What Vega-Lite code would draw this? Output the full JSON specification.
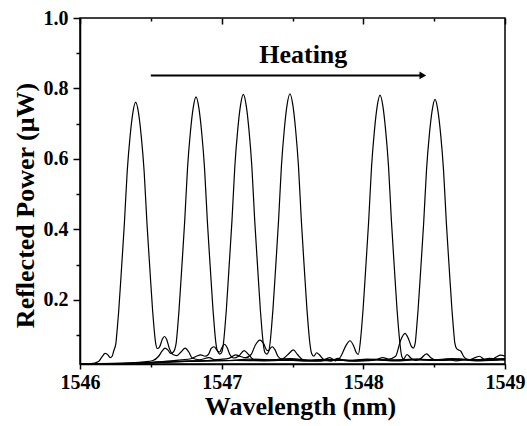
{
"$schema": "https://vega.github.io/schema/vega-lite/v6.json",
"width": 425, "height": 346,
"autosize": "none",
"padding": {"left": 80, "top": 18, "right": 22, "bottom": 62},
"background": "white",
"config": {"view": {"stroke": "black", "strokeWidth": 1.5}, "font": "Liberation Serif",
"axis": {"grid": false, "domainColor": "black", "domainWidth": 1.5, "tickColor": "black", "tickWidth": 1.5, "labelColor": "black", "titleColor": "black"}},
"datasets": {
"s": [
{"c":1,"x":1546.000,"y":0.019},{"c":1,"x":1546.080,"y":0.019},{"c":1,"x":1546.130,"y":0.025},{"c":1,"x":1546.155,"y":0.038},{"c":1,"x":1546.177,"y":0.048},{"c":1,"x":1546.197,"y":0.044},{"c":1,"x":1546.213,"y":0.036},{"c":1,"x":1546.227,"y":0.040},{"c":1,"x":1546.238,"y":0.055},
{"c":1,"x":1546.253,"y":0.076},{"c":1,"x":1546.263,"y":0.118},{"c":1,"x":1546.273,"y":0.167},{"c":1,"x":1546.293,"y":0.289},{"c":1,"x":1546.313,"y":0.415},{"c":1,"x":1546.333,"y":0.563},{"c":1,"x":1546.353,"y":0.662},{"c":1,"x":1546.373,"y":0.731},{"c":1,"x":1546.393,"y":0.761},{"c":1,"x":1546.413,"y":0.731},{"c":1,"x":1546.433,"y":0.662},{"c":1,"x":1546.453,"y":0.563},{"c":1,"x":1546.473,"y":0.415},{"c":1,"x":1546.493,"y":0.289},{"c":1,"x":1546.513,"y":0.167},{"c":1,"x":1546.523,"y":0.118},{"c":1,"x":1546.533,"y":0.080},
{"c":1,"x":1546.546,"y":0.062},{"c":1,"x":1546.561,"y":0.066},{"c":1,"x":1546.581,"y":0.088},{"c":1,"x":1546.596,"y":0.096},{"c":1,"x":1546.611,"y":0.088},{"c":1,"x":1546.631,"y":0.062},{"c":1,"x":1546.655,"y":0.045},{"c":1,"x":1546.684,"y":0.042},{"c":1,"x":1546.713,"y":0.052},{"c":1,"x":1546.743,"y":0.063},{"c":1,"x":1546.768,"y":0.052},{"c":1,"x":1546.792,"y":0.035},{"c":1,"x":1546.842,"y":0.030},{"c":1,"x":1546.911,"y":0.036},{"c":1,"x":1546.951,"y":0.030},{"c":1,"x":1547.040,"y":0.028},{"c":1,"x":1547.189,"y":0.032},{"c":1,"x":1547.337,"y":0.030},{"c":1,"x":1547.486,"y":0.033},{"c":1,"x":1547.634,"y":0.028},{"c":1,"x":1547.783,"y":0.030},{"c":1,"x":1547.931,"y":0.027},{"c":1,"x":1548.080,"y":0.030},{"c":1,"x":1548.229,"y":0.028},{"c":1,"x":1548.377,"y":0.031},{"c":1,"x":1548.526,"y":0.028},{"c":1,"x":1548.674,"y":0.032},{"c":1,"x":1548.823,"y":0.029},{"c":1,"x":1549.000,"y":0.031},

{"c":2,"x":1546.000,"y":0.019},{"c":2,"x":1546.200,"y":0.019},{"c":2,"x":1546.350,"y":0.021},{"c":2,"x":1546.450,"y":0.024},{"c":2,"x":1546.515,"y":0.028},{"c":2,"x":1546.555,"y":0.040},{"c":2,"x":1546.580,"y":0.055},{"c":2,"x":1546.600,"y":0.063},{"c":2,"x":1546.620,"y":0.058},{"c":2,"x":1546.640,"y":0.048},{"c":2,"x":1546.659,"y":0.052},{"c":2,"x":1546.669,"y":0.060},
{"c":2,"x":1546.679,"y":0.078},{"c":2,"x":1546.689,"y":0.120},{"c":2,"x":1546.699,"y":0.171},{"c":2,"x":1546.719,"y":0.295},{"c":2,"x":1546.739,"y":0.423},{"c":2,"x":1546.759,"y":0.574},{"c":2,"x":1546.779,"y":0.675},{"c":2,"x":1546.799,"y":0.745},{"c":2,"x":1546.819,"y":0.776},{"c":2,"x":1546.839,"y":0.745},{"c":2,"x":1546.859,"y":0.675},{"c":2,"x":1546.879,"y":0.574},{"c":2,"x":1546.899,"y":0.423},{"c":2,"x":1546.919,"y":0.295},{"c":2,"x":1546.939,"y":0.171},{"c":2,"x":1546.949,"y":0.120},{"c":2,"x":1546.959,"y":0.078},
{"c":2,"x":1546.971,"y":0.055},{"c":2,"x":1546.986,"y":0.052},{"c":2,"x":1547.002,"y":0.065},{"c":2,"x":1547.020,"y":0.074},{"c":2,"x":1547.038,"y":0.065},{"c":2,"x":1547.058,"y":0.045},{"c":2,"x":1547.085,"y":0.035},{"c":2,"x":1547.119,"y":0.040},{"c":2,"x":1547.159,"y":0.056},{"c":2,"x":1547.189,"y":0.045},{"c":2,"x":1547.228,"y":0.030},{"c":2,"x":1547.288,"y":0.028},{"c":2,"x":1547.436,"y":0.032},{"c":2,"x":1547.585,"y":0.029},{"c":2,"x":1547.733,"y":0.031},{"c":2,"x":1547.882,"y":0.028},{"c":2,"x":1548.031,"y":0.032},{"c":2,"x":1548.179,"y":0.029},{"c":2,"x":1548.328,"y":0.031},{"c":2,"x":1548.476,"y":0.030},{"c":2,"x":1548.625,"y":0.033},{"c":2,"x":1548.773,"y":0.030},{"c":2,"x":1549.000,"y":0.033},

{"c":3,"x":1546.000,"y":0.019},{"c":3,"x":1546.300,"y":0.020},{"c":3,"x":1546.500,"y":0.023},{"c":3,"x":1546.644,"y":0.027},{"c":3,"x":1546.714,"y":0.030},{"c":3,"x":1546.783,"y":0.033},{"c":3,"x":1546.822,"y":0.040},{"c":3,"x":1546.852,"y":0.044},{"c":3,"x":1546.882,"y":0.040},{"c":3,"x":1546.906,"y":0.045},{"c":3,"x":1546.926,"y":0.062},{"c":3,"x":1546.946,"y":0.067},{"c":3,"x":1546.966,"y":0.058},{"c":3,"x":1546.986,"y":0.046},{"c":3,"x":1546.999,"y":0.050},
{"c":3,"x":1547.013,"y":0.078},{"c":3,"x":1547.023,"y":0.121},{"c":3,"x":1547.033,"y":0.172},{"c":3,"x":1547.053,"y":0.298},{"c":3,"x":1547.073,"y":0.427},{"c":3,"x":1547.093,"y":0.579},{"c":3,"x":1547.113,"y":0.681},{"c":3,"x":1547.133,"y":0.752},{"c":3,"x":1547.153,"y":0.783},{"c":3,"x":1547.173,"y":0.752},{"c":3,"x":1547.193,"y":0.681},{"c":3,"x":1547.213,"y":0.579},{"c":3,"x":1547.233,"y":0.427},{"c":3,"x":1547.253,"y":0.298},{"c":3,"x":1547.273,"y":0.172},{"c":3,"x":1547.283,"y":0.121},{"c":3,"x":1547.293,"y":0.078},
{"c":3,"x":1547.306,"y":0.050},{"c":3,"x":1547.320,"y":0.046},{"c":3,"x":1547.339,"y":0.060},{"c":3,"x":1547.357,"y":0.067},{"c":3,"x":1547.377,"y":0.058},{"c":3,"x":1547.397,"y":0.040},{"c":3,"x":1547.426,"y":0.032},{"c":3,"x":1547.466,"y":0.044},{"c":3,"x":1547.506,"y":0.058},{"c":3,"x":1547.535,"y":0.045},{"c":3,"x":1547.575,"y":0.030},{"c":3,"x":1547.634,"y":0.028},{"c":3,"x":1547.783,"y":0.031},{"c":3,"x":1547.931,"y":0.028},{"c":3,"x":1548.080,"y":0.031},{"c":3,"x":1548.229,"y":0.029},{"c":3,"x":1548.377,"y":0.032},{"c":3,"x":1548.526,"y":0.029},{"c":3,"x":1548.674,"y":0.031},{"c":3,"x":1548.823,"y":0.029},{"c":3,"x":1549.000,"y":0.032},

{"c":4,"x":1546.000,"y":0.019},{"c":4,"x":1546.300,"y":0.019},{"c":4,"x":1546.500,"y":0.022},{"c":4,"x":1546.700,"y":0.026},{"c":4,"x":1546.900,"y":0.028},{"c":4,"x":1546.990,"y":0.031},{"c":4,"x":1547.050,"y":0.034},{"c":4,"x":1547.099,"y":0.044},{"c":4,"x":1547.129,"y":0.040},{"c":4,"x":1547.169,"y":0.036},{"c":4,"x":1547.208,"y":0.045},{"c":4,"x":1547.238,"y":0.072},{"c":4,"x":1547.270,"y":0.086},{"c":4,"x":1547.297,"y":0.075},{"c":4,"x":1547.317,"y":0.058},{"c":4,"x":1547.331,"y":0.056},
{"c":4,"x":1547.342,"y":0.079},{"c":4,"x":1547.352,"y":0.122},{"c":4,"x":1547.362,"y":0.173},{"c":4,"x":1547.382,"y":0.298},{"c":4,"x":1547.402,"y":0.428},{"c":4,"x":1547.422,"y":0.581},{"c":4,"x":1547.442,"y":0.683},{"c":4,"x":1547.462,"y":0.754},{"c":4,"x":1547.482,"y":0.785},{"c":4,"x":1547.502,"y":0.754},{"c":4,"x":1547.522,"y":0.683},{"c":4,"x":1547.542,"y":0.581},{"c":4,"x":1547.562,"y":0.428},{"c":4,"x":1547.582,"y":0.298},{"c":4,"x":1547.602,"y":0.173},{"c":4,"x":1547.612,"y":0.122},{"c":4,"x":1547.622,"y":0.079},
{"c":4,"x":1547.635,"y":0.048},{"c":4,"x":1547.650,"y":0.040},{"c":4,"x":1547.671,"y":0.050},{"c":4,"x":1547.694,"y":0.042},{"c":4,"x":1547.723,"y":0.030},{"c":4,"x":1547.773,"y":0.026},{"c":4,"x":1547.822,"y":0.034},{"c":4,"x":1547.862,"y":0.028},{"c":4,"x":1547.931,"y":0.026},{"c":4,"x":1548.080,"y":0.030},{"c":4,"x":1548.229,"y":0.027},{"c":4,"x":1548.377,"y":0.030},{"c":4,"x":1548.526,"y":0.028},{"c":4,"x":1548.674,"y":0.030},{"c":4,"x":1548.823,"y":0.027},{"c":4,"x":1549.000,"y":0.030},

{"c":5,"x":1546.000,"y":0.019},{"c":5,"x":1546.300,"y":0.019},{"c":5,"x":1546.500,"y":0.022},{"c":5,"x":1546.700,"y":0.025},{"c":5,"x":1546.900,"y":0.027},{"c":5,"x":1547.100,"y":0.028},{"c":5,"x":1547.300,"y":0.029},{"c":5,"x":1547.500,"y":0.028},{"c":5,"x":1547.634,"y":0.026},{"c":5,"x":1547.704,"y":0.027},{"c":5,"x":1547.763,"y":0.036},{"c":5,"x":1547.802,"y":0.027},{"c":5,"x":1547.842,"y":0.040},{"c":5,"x":1547.877,"y":0.070},{"c":5,"x":1547.906,"y":0.084},{"c":5,"x":1547.931,"y":0.070},{"c":5,"x":1547.951,"y":0.050},{"c":5,"x":1547.965,"y":0.045},
{"c":5,"x":1547.978,"y":0.078},{"c":5,"x":1547.988,"y":0.121},{"c":5,"x":1547.998,"y":0.172},{"c":5,"x":1548.018,"y":0.297},{"c":5,"x":1548.038,"y":0.426},{"c":5,"x":1548.058,"y":0.578},{"c":5,"x":1548.078,"y":0.679},{"c":5,"x":1548.098,"y":0.750},{"c":5,"x":1548.118,"y":0.781},{"c":5,"x":1548.138,"y":0.750},{"c":5,"x":1548.158,"y":0.679},{"c":5,"x":1548.178,"y":0.578},{"c":5,"x":1548.198,"y":0.426},{"c":5,"x":1548.218,"y":0.297},{"c":5,"x":1548.238,"y":0.172},{"c":5,"x":1548.248,"y":0.121},{"c":5,"x":1548.258,"y":0.078},
{"c":5,"x":1548.271,"y":0.040},{"c":5,"x":1548.284,"y":0.032},{"c":5,"x":1548.308,"y":0.045},{"c":5,"x":1548.333,"y":0.036},{"c":5,"x":1548.367,"y":0.028},{"c":5,"x":1548.407,"y":0.034},{"c":5,"x":1548.446,"y":0.047},{"c":5,"x":1548.476,"y":0.036},{"c":5,"x":1548.525,"y":0.028},{"c":5,"x":1548.594,"y":0.032},{"c":5,"x":1548.654,"y":0.027},{"c":5,"x":1548.733,"y":0.031},{"c":5,"x":1548.822,"y":0.028},{"c":5,"x":1548.891,"y":0.034},{"c":5,"x":1549.000,"y":0.029},

{"c":6,"x":1546.000,"y":0.019},{"c":6,"x":1546.300,"y":0.019},{"c":6,"x":1546.500,"y":0.021},{"c":6,"x":1546.700,"y":0.025},{"c":6,"x":1546.900,"y":0.027},{"c":6,"x":1547.100,"y":0.028},{"c":6,"x":1547.300,"y":0.027},{"c":6,"x":1547.500,"y":0.029},{"c":6,"x":1547.700,"y":0.027},{"c":6,"x":1547.850,"y":0.029},{"c":6,"x":1548.000,"y":0.027},{"c":6,"x":1548.080,"y":0.029},{"c":6,"x":1548.139,"y":0.036},{"c":6,"x":1548.179,"y":0.032},{"c":6,"x":1548.228,"y":0.040},{"c":6,"x":1548.263,"y":0.085},{"c":6,"x":1548.294,"y":0.105},{"c":6,"x":1548.318,"y":0.090},{"c":6,"x":1548.339,"y":0.068},{"c":6,"x":1548.353,"y":0.063},
{"c":6,"x":1548.366,"y":0.077},{"c":6,"x":1548.376,"y":0.119},{"c":6,"x":1548.386,"y":0.169},{"c":6,"x":1548.406,"y":0.292},{"c":6,"x":1548.426,"y":0.419},{"c":6,"x":1548.446,"y":0.569},{"c":6,"x":1548.466,"y":0.669},{"c":6,"x":1548.486,"y":0.738},{"c":6,"x":1548.506,"y":0.769},{"c":6,"x":1548.526,"y":0.738},{"c":6,"x":1548.546,"y":0.669},{"c":6,"x":1548.566,"y":0.569},{"c":6,"x":1548.586,"y":0.419},{"c":6,"x":1548.606,"y":0.292},{"c":6,"x":1548.626,"y":0.169},{"c":6,"x":1548.636,"y":0.119},{"c":6,"x":1548.646,"y":0.077},
{"c":6,"x":1548.658,"y":0.062},{"c":6,"x":1548.672,"y":0.058},{"c":6,"x":1548.687,"y":0.055},{"c":6,"x":1548.707,"y":0.040},{"c":6,"x":1548.741,"y":0.030},{"c":6,"x":1548.790,"y":0.036},{"c":6,"x":1548.820,"y":0.040},{"c":6,"x":1548.849,"y":0.032},{"c":6,"x":1548.898,"y":0.028},{"c":6,"x":1548.938,"y":0.038},{"c":6,"x":1548.970,"y":0.043},{"c":6,"x":1549.000,"y":0.040}
]
},
"layer": [
{
"data": {"name": "s"},
"mark": {"type": "line", "color": "black", "strokeWidth": 1.2, "interpolate": "monotone", "clip": true},
"encoding": {
"x": {"field": "x", "type": "quantitative", "scale": {"domain": [1546, 1549], "nice": false, "zero": false},
"axis": {"orient": "bottom", "title": "Wavelength (nm)", "values": [1546, 1547, 1548, 1549], "format": "d", "tickSize": 5,
"labelFont": "Liberation Serif", "labelFontWeight": "bold", "labelFontSize": 20, "labelPadding": 3, "labelFlush": false, "labelOverlap": false,
"titleFont": "Liberation Serif", "titleFontWeight": "bold", "titleFontSize": 26, "titleX": 220, "titleY": 50, "titleBaseline": "alphabetic", "titleAlign": "center"}},
"y": {"field": "y", "type": "quantitative", "scale": {"domain": [0.018, 1.0], "nice": false, "zero": false},
"axis": {"orient": "left", "title": "Reflected Power (μW)", "values": [0.2, 0.4, 0.6, 0.8, 1.0], "format": ".1f", "tickSize": 7,
"labelFont": "Liberation Serif", "labelFontWeight": "bold", "labelFontSize": 20, "labelPadding": 5, "labelFlush": false, "labelOverlap": false,
"titleFont": "Liberation Serif", "titleFontWeight": "bold", "titleFontSize": 26, "titleX": -47, "titleY": 187, "titleBaseline": "alphabetic", "titleAlign": "center", "titleAngle": -90}},
"detail": {"field": "c", "type": "nominal"}
}
},
{
"data": {"values": [{"x": 1546.5, "x2": 1548.40, "y": 0.837}]},
"mark": {"type": "rule", "color": "black", "strokeWidth": 2},
"encoding": {
"x": {"field": "x", "type": "quantitative",
"axis": {"orient": "bottom", "title": null, "labels": false, "domain": false, "values": [1546.5, 1547.5, 1548.5], "tickSize": 3}},
"x2": {"field": "x2"},
"y": {"field": "y", "type": "quantitative",
"axis": {"orient": "left", "title": null, "labels": false, "domain": false, "values": [0.1, 0.3, 0.5, 0.7, 0.9], "tickSize": 4}}
}
},
{
"data": {"values": [{"x": 1548.42, "y": 0.837}]},
"mark": {"type": "point", "shape": "triangle-right", "filled": true, "color": "black", "size": 60, "opacity": 1},
"encoding": {
"x": {"field": "x", "type": "quantitative",
"axis": {"orient": "top", "title": null, "labels": false, "domain": false, "values": [1546, 1547, 1548, 1549], "tickSize": 6, "offset": -6}},
"y": {"field": "y", "type": "quantitative", "axis": null}
}
},
{
"data": {"values": [{"x": 1547.576, "y": 0.871, "t": "Heating"}]},
"mark": {"type": "text", "font": "Liberation Serif", "fontWeight": "bold", "fontSize": 26, "color": "black", "align": "center", "baseline": "alphabetic"},
"encoding": {
"x": {"field": "x", "type": "quantitative",
"axis": {"orient": "top", "title": null, "labels": false, "domain": false, "values": [1546.5, 1547.5, 1548.5], "tickSize": 3, "offset": -3}},
"y": {"field": "y", "type": "quantitative", "axis": null},
"text": {"field": "t"}
}
}
],
"resolve": {"axis": {"x": "independent", "y": "independent"}}
}
